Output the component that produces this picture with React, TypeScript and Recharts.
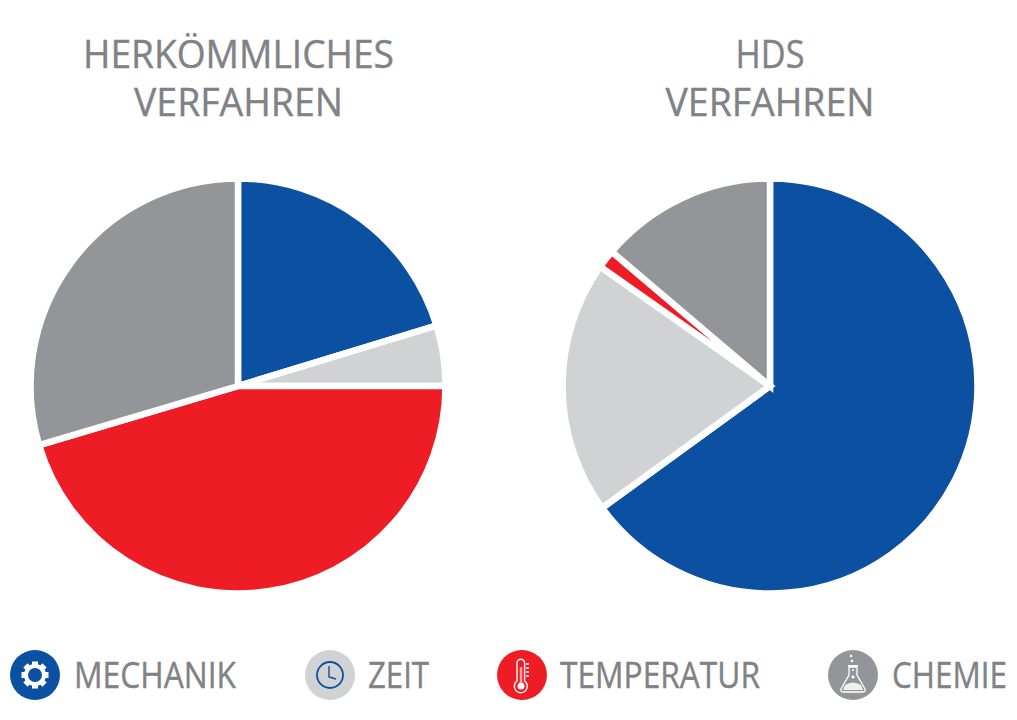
import React from "react";
import { PieChart, Pie, Cell, Legend } from "recharts";

const categories = ["MECHANIK", "ZEIT", "TEMPERATUR", "CHEMIE"];
const colors = ["#0C50A2", "#D1D2D4", "#EE1C25", "#939598"];
const leftValues = [20.3, 4.7, 45.4, 29.6];
const rightValues = [65, 19.75, 1.45, 13.8];
const leftTitle = ["HERKÖMMLICHES", "VERFAHREN"];
const rightTitle = ["HDS", "VERFAHREN"];

const toRows = (values: number[]) => categories.map((name, i) => ({ name, value: values[i] }));
const TEXT = "#808285";
const FONT = "'Open Sans', sans-serif";

const titleWidths: Record<string, number> = { "HERKÖMMLICHES": 311, "VERFAHREN": 209, HDS: 69 };

function Title({ x, lines }: { x: number; lines: string[] }) {
  return (
    <>
      {lines.map((l, i) => (
        <text key={l} x={x} y={67.5 + i * 48} textAnchor="middle" fontFamily={FONT} fontSize={38.5} fill={TEXT}
          stroke={TEXT} strokeWidth={0.4} textLength={titleWidths[l]} lengthAdjust="spacingAndGlyphs">{l}</text>
      ))}
    </>
  );
}

const legendX = [35, 330, 522, 853];
const legendTextX = [74, 368, 560, 892];
const legendTextW = [162, 61, 200, 115];
const LEGEND_SQUEEZE = 0.85;

function Gear() {
  const teeth = [0, 45, 90, 135, 180, 225, 270, 315];
  return (
    <g>
      {teeth.map((a) => (
        <rect key={a} x={-3} y={-13.5} width={6} height={6} fill="#fff" transform={`rotate(${a})`} />
      ))}
      <circle r={9} fill="none" stroke="#fff" strokeWidth={4} />
    </g>
  );
}
function Clock() {
  return (
    <g fill="none" stroke="#0C50A2">
      <circle r={13} strokeWidth={1.8} />
      <path d="M-1 -9 V2 L6 4" strokeWidth={1.4} />
    </g>
  );
}
function Thermo() {
  return (
    <g fill="none" stroke="#fff" strokeWidth={1.4}>
      <path d="M-5 6 V-12 a3.8 3.8 0 0 1 7.6 0 V6 a6.5 6.5 0 1 1 -7.6 0 Z" />
      <circle cx={-1} cy={11} r={3.5} fill="#fff" stroke="none" />
      <path d="M-1 -8 V8" strokeWidth={2.5} stroke="#F6A6A9" />
      <path d="M4 -11 H7 M4 -7 H7 M4 -3 H7 M4 1 H7" strokeWidth={1.6} />
    </g>
  );
}
function Flask() {
  return (
    <g fill="none" stroke="#fff" strokeWidth={1.3}>
      <path d="M-3 -8 V0 L-11 14 Q-12 17 -9 17 H11 Q14 17 13 14 L5 0 V-8 Z" transform="translate(-1 0)" />
      <path d="M-5 -9 H5" strokeWidth={1.8} />
      <path d="M-8 10 Q0 5 8 10 L10 15 H-10 Z" fill="#fff" stroke="none" opacity={0.85} />
      <circle cx={0} cy={2} r={1.6} fill="#fff" stroke="none" />
      <circle cx={0} cy={-5} r={1} fill="#fff" stroke="none" />
      <circle cx={-1} cy={-14} r={1.3} fill="#fff" stroke="none" />
      <circle cx={-2} cy={-19} r={1.2} fill="#fff" stroke="none" />
    </g>
  );
}
const icons = [<Gear />, <Clock />, <Thermo />, <Flask />];

function LegendRow() {
  return (
    <svg width={1017} height={90} style={{ display: "block" }}>
      {categories.map((c, i) => (
        <g key={c}>
          <circle cx={legendX[i]} cy={45} r={25} fill={colors[i]} />
          <g transform={`translate(${legendX[i]} 45)`}>{icons[i]}</g>
          <text transform={`translate(${legendTextX[i]} 58) scale(${LEGEND_SQUEEZE} 1)`} fontFamily={FONT} fontSize={36}
            fill={TEXT} stroke={TEXT} strokeWidth={0.4} textLength={legendTextW[i] / LEGEND_SQUEEZE}
            lengthAdjust="spacingAndGlyphs">{c}</text>
        </g>
      ))}
    </svg>
  );
}

export default function App() {
  return (
    <div style={{ position: "absolute", left: 0, top: 0, width: 1017, height: 720, background: "#fff" }}>
      <PieChart width={1017} height={720} margin={{ top: 0, right: 0, bottom: 0, left: 0 }}>
        <Title x={238.5} lines={leftTitle} />
        <Title x={770} lines={rightTitle} />
        <Pie data={toRows(leftValues)} dataKey="value" nameKey="name" cx={238} cy={386} innerRadius={0} outerRadius={207.5}
          startAngle={90} endAngle={-270} stroke="#fff" strokeWidth={6.5} isAnimationActive={false} labelLine={false}>
          {categories.map((c, i) => <Cell key={c} fill={colors[i]} />)}
        </Pie>
        <Pie data={toRows(rightValues)} dataKey="value" nameKey="name" cx={770} cy={386} innerRadius={0} outerRadius={207.5}
          startAngle={90} endAngle={-270} stroke="#fff" strokeWidth={6.5} isAnimationActive={false} labelLine={false}>
          {categories.map((c, i) => <Cell key={c} fill={colors[i]} />)}
        </Pie>
        <Legend content={() => <LegendRow />} wrapperStyle={{ position: "absolute", left: 0, top: 630, width: 1017, height: 90, margin: 0 }} />
      </PieChart>
    </div>
  );
}
